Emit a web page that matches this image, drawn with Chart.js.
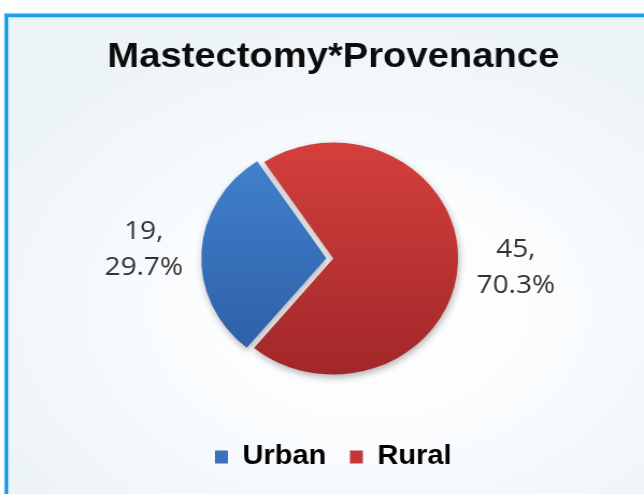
<!DOCTYPE html>
<html>
<head>
<meta charset="utf-8">
<script src="https://cdn.jsdelivr.net/npm/chart.js@4/dist/chart.umd.min.js"></script>
<style>
html,body{margin:0;padding:0;background:#ffffff;width:644px;height:494px;overflow:hidden;}
#frame{position:absolute;left:5px;top:14px;width:720px;height:560px;
  border-left:3px solid #1e9fe9;border-top:3px solid #1e9fe9;
  box-shadow:-1px -1px 1px #8fd2f7, inset 1px 1px 1px #a8dcf8;
  background:radial-gradient(ellipse 58% 52% at 50% 52%, #ffffff 0%, #fafcfe 45%, #edf4f8 100%);}
#c{position:absolute;left:0;top:0;}
</style>
</head>
<body>
<div id="frame"></div>
<canvas id="c" width="599" height="494" style="width:644px;height:494px;"></canvas>
<script>
// ---- data ----
const categories = ['Urban', 'Rural'];
const counts = [19, 45];
const chartTitle = 'Mastectomy*Provenance';

// ---- styles ----
const topColors = ['#4384d2', '#d4403c'];
const bottomColors = ['#2b5ca1', '#a2272a'];
const legendColors = ['#3b70bf', '#c2373a'];

const total = counts.reduce((a, b) => a + b, 0);
const percents = counts.map(v => (v / total * 100).toFixed(1));

function sliceFill(c) {
  const chart = c.chart;
  const area = chart.chartArea;
  const i = c.dataIndex;
  if (!area || i === undefined) return legendColors[i || 0];
  const cy = (area.top + area.bottom) / 2;
  const r = 116;
  const g = chart.ctx.createLinearGradient(0, cy - r, 0, cy + r);
  g.addColorStop(0, topColors[i]);
  g.addColorStop(1, bottomColors[i]);
  return g;
}

const pieShadow = {
  id: 'pieShadow',
  beforeDatasetsDraw(chart) {
    const ctx = chart.ctx;
    ctx.save();
    ctx.shadowColor = 'rgba(0,0,0,0.30)';
    ctx.shadowBlur = 7;
    ctx.shadowOffsetX = 1;
    ctx.shadowOffsetY = 3;
  },
  afterDatasetsDraw(chart) {
    chart.ctx.restore();
  }
};

const sliceLabels = {
  id: 'sliceLabels',
  afterDraw(chart) {
    const ctx = chart.ctx;
    const meta = chart.getDatasetMeta(0);
    ctx.save();
    ctx.font = '26px "Open Sans", sans-serif';
    ctx.fillStyle = '#333333';
    ctx.textAlign = 'center';
    ctx.textBaseline = 'middle';
    meta.data.forEach((arc, i) => {
      const p = arc.getProps(['x', 'y', 'startAngle', 'endAngle', 'outerRadius'], true);
      const off = (arc.options.offset || 0) / 4;
      const mid = (p.startAngle + p.endAngle) / 2;
      const d = p.outerRadius + off + 54;
      const lx = p.x + Math.cos(mid) * d;
      const ly = p.y + Math.sin(mid) * d;
      ctx.fillText(counts[i] + ',', lx, ly - 18);
      ctx.fillText(percents[i] + '%', lx, ly + 18);
    });
    ctx.restore();
  }
};

new Chart(document.getElementById('c'), {
  type: 'pie',
  data: {
    labels: categories,
    datasets: [{
      data: counts,
      backgroundColor: sliceFill,
      borderWidth: 0,
      offset: [26, 0],
      hoverOffset: 0,
      rotation: 219.5,
      radius: 116
    }]
  },
  options: {
    responsive: false,
    devicePixelRatio: 1,
    animation: false,
    events: [],
    layout: { padding: { left: 21, right: 0, top: 0, bottom: 13.5 } },
    plugins: {
      tooltip: { enabled: false },
      title: {
        display: true,
        text: chartTitle,
        color: '#0d0d0d',
        font: { family: '"Liberation Sans", Arial, sans-serif', size: 35.5, weight: 'bold' },
        padding: { top: 35.7, bottom: 17.2 }
      },
      legend: {
        display: true,
        position: 'bottom',
        labels: {
          color: '#0d0d0d',
          font: { family: '"Liberation Sans", Arial, sans-serif', size: 27, weight: 'bold' },
          boxWidth: 12,
          boxHeight: 13,
          padding: 22,
          generateLabels: (chart) => categories.map((name, i) => ({
            text: name,
            fillStyle: legendColors[i],
            strokeStyle: legendColors[i],
            lineWidth: 0,
            hidden: false,
            index: i
          }))
        }
      }
    }
  },
  plugins: [pieShadow, sliceLabels]
});
</script>
</body>
</html>
